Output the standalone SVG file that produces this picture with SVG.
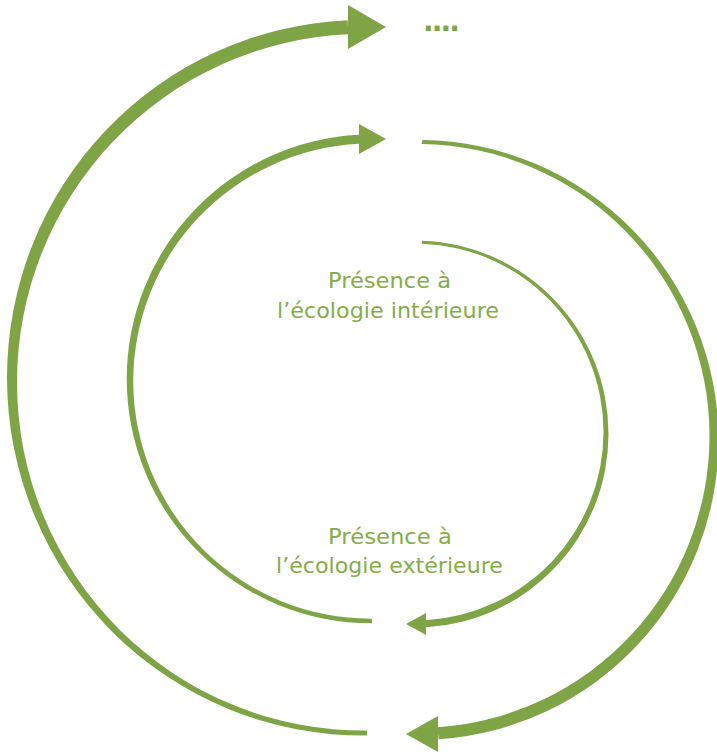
<svg xmlns="http://www.w3.org/2000/svg" width="717" height="756" viewBox="0 0 717 756">
  <style>
    .arc { fill: #7ea446; stroke: none; }
    .head { fill: #7ea446; stroke: none; }
    .label { font-family: "DejaVu Sans", "Liberation Sans", sans-serif; font-size: 22px; fill: #84ad4a; text-anchor: middle; }
    .dots { font-family: "DejaVu Sans", "Liberation Sans", sans-serif; font-weight: bold; font-size: 28px; fill: #7ea446; }
  </style>
  <rect width="717" height="756" fill="#ffffff"/>

  <!-- tapered spiral arcs, each widening toward its arrowhead -->
  <g id="connectors">
    <!-- innermost: right half, top to bottom -->
    <path class="arc" d="M 422.09 240.63 A 193.5 193.5 0 0 1 608.5 434 A 193.5 193.5 0 0 1 426.14 627.18 L 425.86 620.19 A 188.5 188.5 0 0 0 603.5 432 A 188.5 188.5 0 0 0 421.91 243.63 Z"/>
    <polygon class="head" points="426,613 406,624 426,635"/>

    <!-- second: left half, bottom to top -->
    <path class="arc" d="M 372.14 623.25 A 244.375 244.375 0 0 1 126.75 378.875 A 244.375 244.375 0 0 1 358.96 134.8 L 359.04 143.8 A 237.625 237.625 0 0 0 133.25 381.125 A 237.625 237.625 0 0 0 371.86 618.75 Z"/>
    <polygon class="head" points="359,124 386,139 359,154"/>

    <!-- third: right half, top to bottom -->
    <path class="arc" d="M 422.55 140.03 A 300 300 0 0 1 718.5 440 A 300 300 0 0 1 438.77 739.31 L 437.23 727.33 A 292 292 0 0 0 709.5 436 A 292 292 0 0 0 421.45 144.03 Z"/>
    <polygon class="head" points="438,716 406,734 438,752"/>

    <!-- outermost: left half, bottom to top -->
    <path class="arc" d="M 366.81 735.48 A 355.75 357.75 0 0 1 7 377.75 A 355.75 357.75 0 0 1 347.55 20.33 L 348.45 34.32 A 346.25 348.25 0 0 0 17 382.25 A 346.25 348.25 0 0 0 367.2 730.48 Z"/>
    <polygon class="head" points="348,5 386,27 348,49"/>
  </g>

  <g id="node-interieure">
    <text class="label" x="389.5" y="288" textLength="123" lengthAdjust="spacingAndGlyphs">Présence à</text>
    <text class="label" x="388" y="318" textLength="222" lengthAdjust="spacingAndGlyphs">l’écologie intérieure</text>
  </g>

  <g id="node-exterieure">
    <text class="label" x="390" y="544" textLength="124" lengthAdjust="spacingAndGlyphs">Présence à</text>
    <text class="label" x="389.5" y="573" textLength="227" lengthAdjust="spacingAndGlyphs">l’écologie extérieure</text>
  </g>

  <g id="node-suite">
    <text class="dots" x="423" y="31" textLength="37" lengthAdjust="spacing">....</text>
  </g>
</svg>
